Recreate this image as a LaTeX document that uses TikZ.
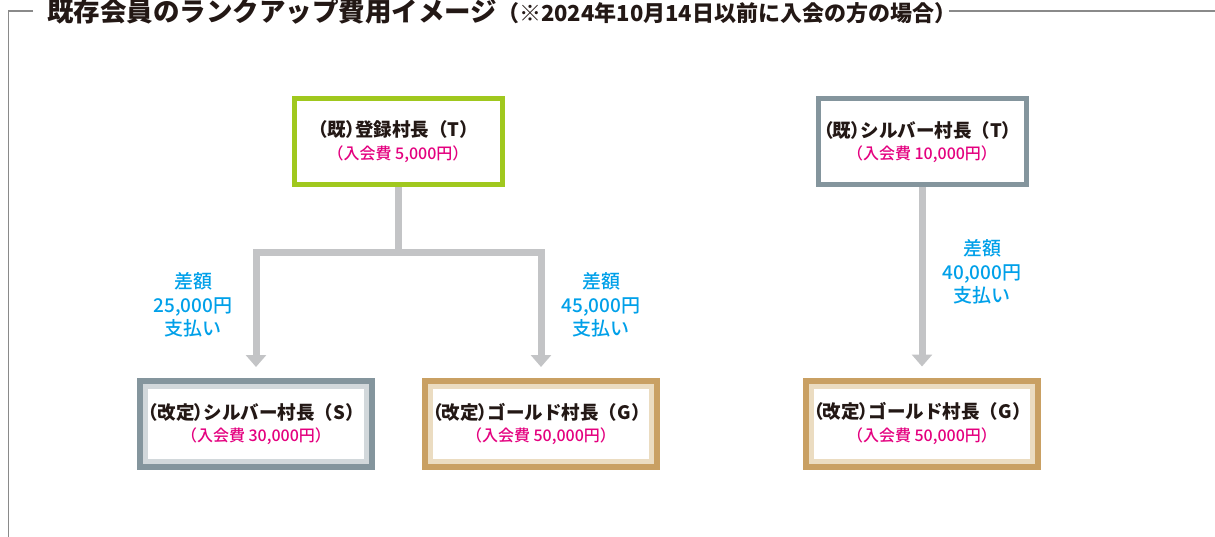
\documentclass[tikz,border=0pt]{standalone}
\usepackage{fontspec}
\setmainfont{Noto Sans CJK JP}
\newfontfamily\jpmed{Noto Sans CJK JP}[UprightFont={* Medium},BoldFont={* Bold}]
\newfontfamily\jpblack{Noto Sans CJK JP}[UprightFont={* Black},BoldFont={* Black}]
\usetikzlibrary{arrows.meta}
\definecolor{cgreen}{RGB}{160,200,30}
\definecolor{cslate}{RGB}{132,149,157}
\definecolor{clslate}{RGB}{210,216,219}
\definecolor{cgold}{RGB}{201,160,99}
\definecolor{cbeige}{RGB}{235,220,193}
\definecolor{cpink}{RGB}{228,0,127}
\definecolor{cblue}{RGB}{0,160,233}
\definecolor{cconn}{RGB}{195,196,198}
\definecolor{cink}{RGB}{35,24,21}
\definecolor{cframe}{RGB}{138,138,138}
\pgfdeclarelayer{bg}
\pgfsetlayers{bg,main}
\tikzset{
  oldbox/.style={rectangle, fill=white, draw=#1, line width=5pt, outer sep=0pt,
    minimum width=208pt, minimum height=86pt, align=center, text=cink, inner sep=0pt},
  newbox/.style={rectangle, fill=white, draw=#1, line width=6pt, outer sep=0pt,
    minimum width=232pt, minimum height=86pt, align=center, text=cink, inner sep=0pt},
  band/.style={draw=#1, line width=5pt},
  conn/.style={draw=cconn, line width=7pt, line join=miter},
  arr/.style={-{Triangle[width=20pt,length=12pt]}},
  difflabel/.style={text=cblue, align=center, font=\jpmed\fontsize{19}{23.5}\selectfont, inner sep=0pt},
  frameline/.style={draw=cframe, line width=1.3pt},
}
\newcommand{\tight}[1]{{\addfontfeature{RawFeature=+palt}#1}}
\newcommand{\boxtext}[3]{{\fontsize{18.5}{18.5}\selectfont\bfseries\tight{#1}#2}\\[6pt]{\jpmed\fontsize{16}{16}\selectfont\color{cpink}#3}}
\begin{document}
\begin{tikzpicture}[x=1pt,y=-1pt]
\useasboundingbox (0,0) rectangle (1215,537);
% frame and title
\node[anchor=west, inner sep=0pt, text=cink] (title) at (47,11)
  {{\jpblack\fontsize{26.5}{26.5}\selectfont 既存会員のランクアップ費用イメージ}{\jpblack\fontsize{22}{22}\selectfont （※2024年10月14日以前に入会の方の場合）}};
\coordinate (fl) at (33,11);
\coordinate (ftl) at (8.5,11);
\coordinate (fbl) at (8.5,537);
\coordinate (fr) at (1215,11);
\draw[frameline] (fl) -- (ftl) -- (fbl);
\draw[frameline] ([xshift=-8pt]title.east) -- (fr);

% boxes
\node[oldbox=cgreen] (t) at (398,141.5) {\boxtext{（既）}{登録村長（T）}{（入会費 5,000円）}};
\node[newbox=cslate] (s) at (256,424) {\boxtext{（改定）}{シルバー村長（S）}{（入会費 30,000円）}};
\node[newbox=cgold] (g) at (541,424) {\boxtext{（改定）}{ゴールド村長（G）}{（入会費 50,000円）}};
\node[oldbox=cslate] (t2) at (922,142) {\boxtext{（既）}{シルバー村長（T）}{（入会費 10,000円）}};
\node[newbox=cgold] (g2) at (922,423.5) {\boxtext{（改定）}{ゴールド村長（G）}{（入会費 50,000円）}};

\draw[band=clslate] ([shift={(5.5,5.5)}]s.north west) rectangle ([shift={(-5.5,-5.5)}]s.south east);
\draw[band=cbeige] ([shift={(5.5,5.5)}]g.north west) rectangle ([shift={(-5.5,-5.5)}]g.south east);
\draw[band=cbeige] ([shift={(5.5,5.5)}]g2.north west) rectangle ([shift={(-5.5,-5.5)}]g2.south east);

% connectors
\coordinate (jm) at (398,253);
\begin{pgfonlayer}{bg}
\draw[conn] (t.south) -- (jm);
\draw[conn, arr] (jm) -| ([yshift=14pt]s.north);
\draw[conn, arr] (jm) -| ([yshift=14pt]g.north);
\draw[conn, arr] (t2.south) -- ([yshift=14pt]g2.north);
\end{pgfonlayer}

% labels
\node[difflabel] (l1) at (193,305) {差額\\25,000円\\支払い};
\node[difflabel] (l2) at (601,305) {差額\\45,000円\\支払い};
\node[difflabel] (l3) at (982,272) {差額\\40,000円\\支払い};
\end{tikzpicture}
\end{document}
